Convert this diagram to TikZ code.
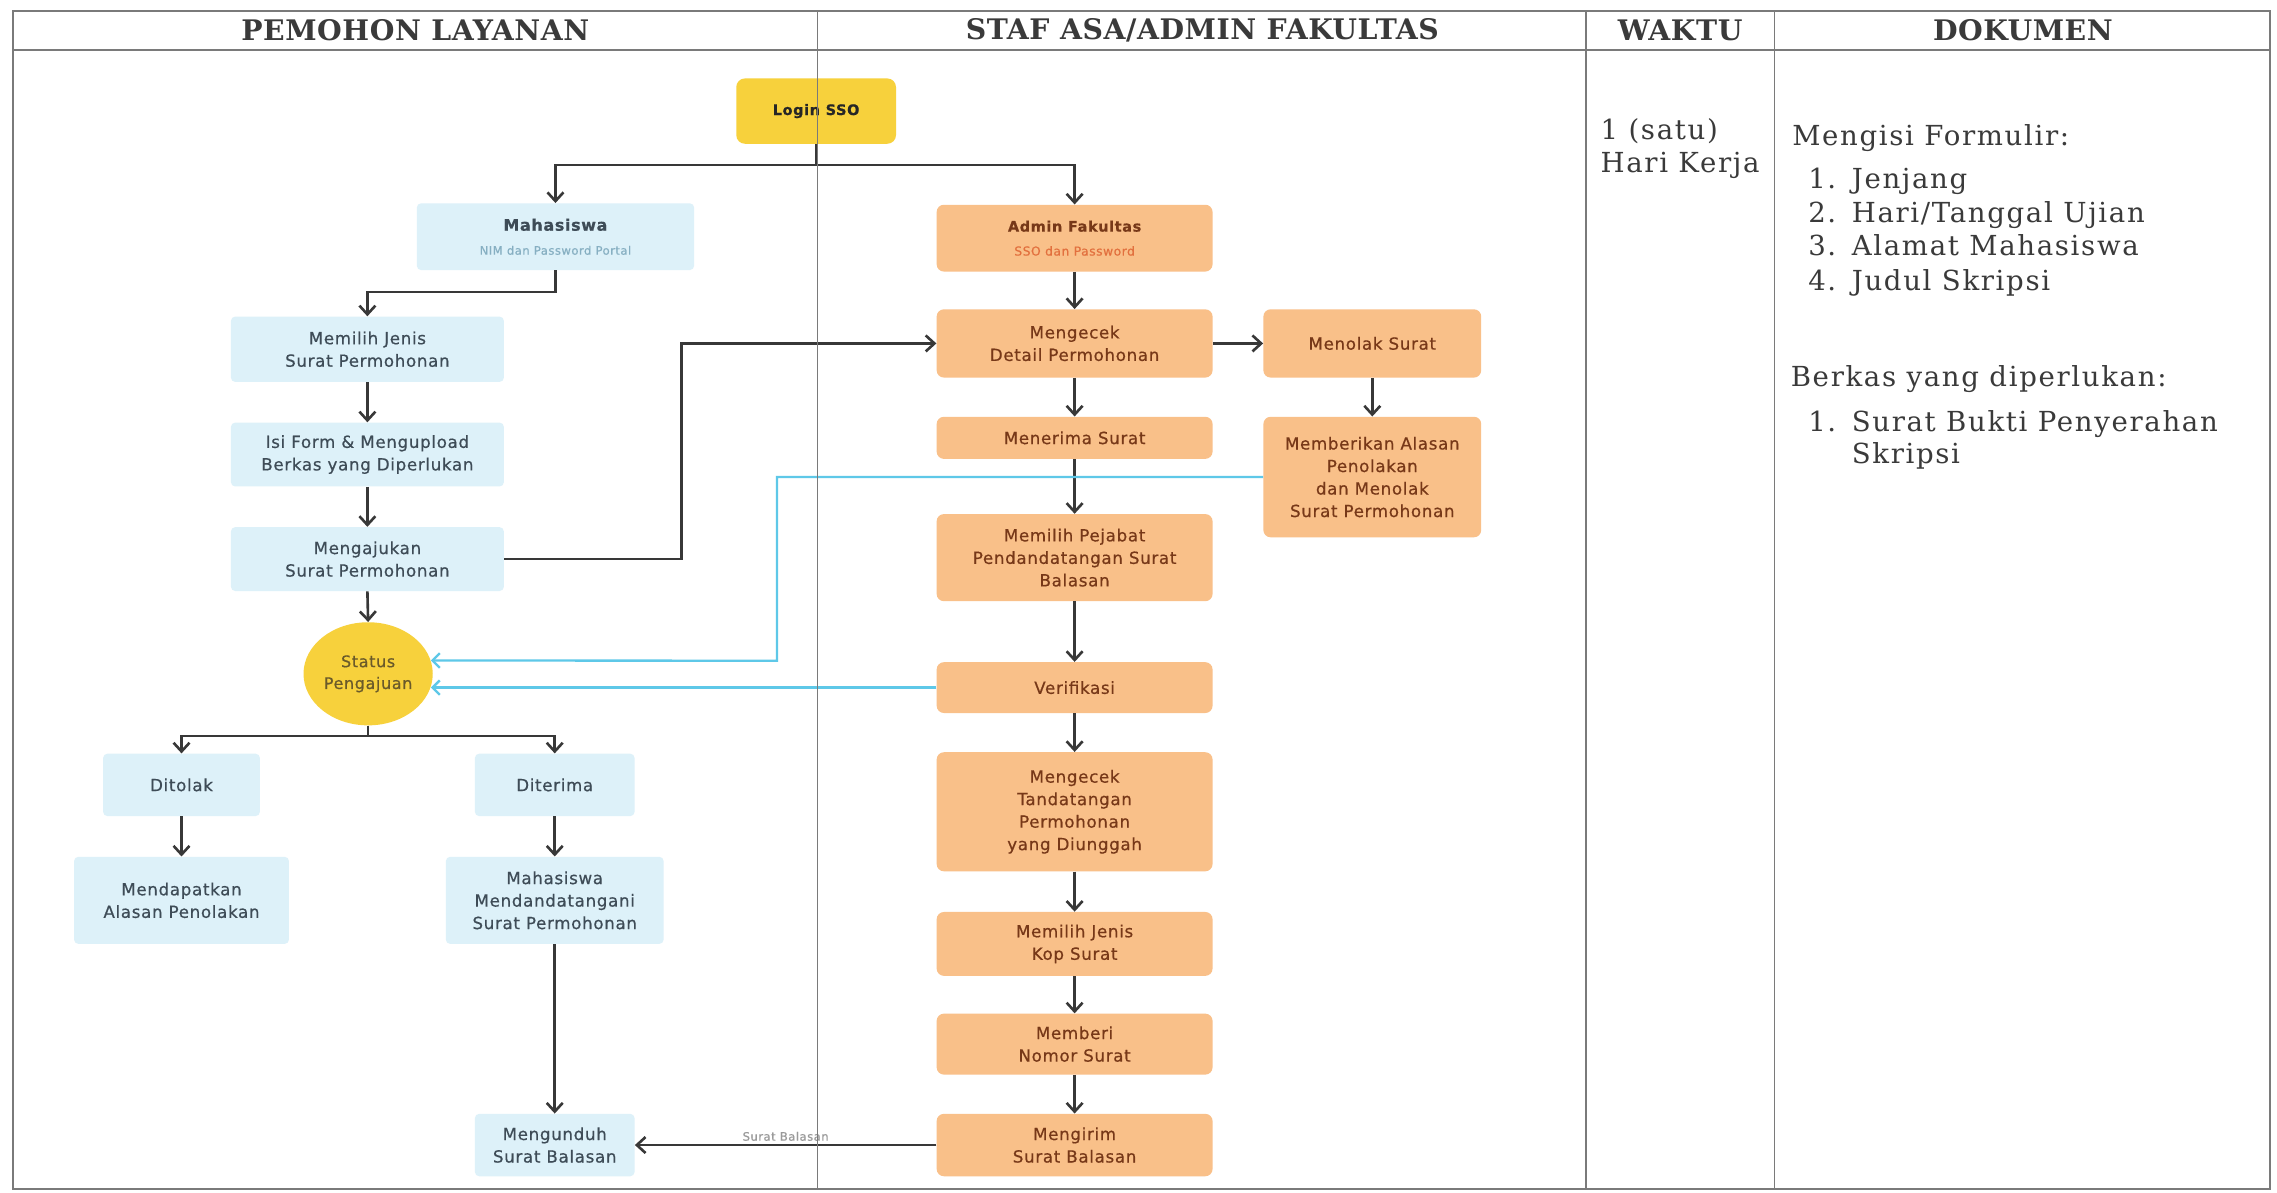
\documentclass[tikz,border=0pt]{standalone}
\usepackage{fontspec}
\setmainfont{DejaVu Serif}
\newfontfamily\hdfont[LetterSpace=2]{DejaVu Serif}
\newfontfamily\docfont[LetterSpace=6]{DejaVu Serif}
\newfontfamily\bxfont[LetterSpace=4,FakeBold=0.6]{DejaVu Sans}
\usetikzlibrary{arrows.meta,shapes.geometric}
\definecolor{bluebox}{HTML}{DDF1F9}
\definecolor{orbox}{HTML}{F9C089}
\definecolor{yel}{HTML}{F7D13C}
\definecolor{bluetxt}{HTML}{3E4C57}
\definecolor{ortxt}{HTML}{773818}
\definecolor{arrc}{HTML}{383838}
\definecolor{bline}{HTML}{5EC8E8}
\definecolor{framec}{HTML}{7A7A7A}
\definecolor{txtc}{HTML}{3A3A3A}
\definecolor{subblue}{HTML}{86AFC2}
\definecolor{subor}{HTML}{E2703E}
\definecolor{stattxt}{HTML}{6A5A2A}
\definecolor{lblc}{HTML}{9A9A9A}
\tikzset{
  sz/.style 2 args={minimum width=#1, minimum height=#2},
  bbox/.style={fill=bluebox, draw=none, rounded corners=3pt, inner sep=0pt, align=center,
    text=bluetxt, font=\bxfont\fontsize{11.5}{15.5}\selectfont},
  obox/.style={fill=orbox, draw=none, rounded corners=5pt, inner sep=0pt, align=center,
    text=ortxt, font=\bxfont\fontsize{11.5}{15.5}\selectfont},
  ybox/.style={fill=yel, draw=none, rounded corners=6pt, inner sep=0pt, align=center,
    text=black!85, font=\bxfont\bfseries\fontsize{10}{12}\selectfont},
  statnode/.style={ellipse, fill=yel, draw=none, inner sep=0pt, align=center,
    text=stattxt, font=\bxfont\fontsize{11}{15}\selectfont},
  arr/.style={draw=arrc, line width=1.8pt, -{Straight Barb[length=6pt,width=11pt]}},
  barr/.style={draw=bline, line width=1.6pt, -{Straight Barb[length=5pt,width=10pt]}},
  hd/.style={inner sep=0pt, text=txtc, font=\hdfont\bfseries\fontsize{19.5}{22}\selectfont},
  doc/.style={inner sep=0pt, anchor=base west, text=txtc, font=\docfont\fontsize{19}{23}\selectfont},
  lbl/.style={inner sep=2pt, text=lblc, font=\bxfont\fontsize{8}{9}\selectfont},
  frameline/.style={draw=framec, line width=1.2pt}
}
\begin{document}
\begin{tikzpicture}[x=1pt,y=-1pt]
\useasboundingbox (0,0) rectangle (1568,821);
\fill[white] (0,0) rectangle (1568,821);

% headers
\node[hd] (h1) at (286,21) {PEMOHON LAYANAN};
\node[hd] (h2) at (828,21) {STAF ASA/ADMIN FAKULTAS};
\node[hd] (h3) at (1157,21) {WAKTU};
\node[hd] (h4) at (1393,21) {DOKUMEN};

% waktu
\node[doc] (w1) at (1102,96) {1 (satu)};
\node[doc] (w2) at (1102,119) {Hari Kerja};

% dokumen
\node[doc] (d0) at (1234,100) {Mengisi Formulir:};
\node[doc] (d1) at (1245,130) {\makebox[30pt][l]{1.}Jenjang};
\node[doc] (d2) at (1245,153) {\makebox[30pt][l]{2.}Hari/Tanggal Ujian};
\node[doc] (d3) at (1245,176) {\makebox[30pt][l]{3.}Alamat Mahasiswa};
\node[doc] (d4) at (1245,200) {\makebox[30pt][l]{4.}Judul Skripsi};
\node[doc] (d5) at (1233,266) {Berkas yang diperlukan:};
\node[doc] (d6) at (1245,297) {\makebox[30pt][l]{1.}Surat Bukti Penyerahan};
\node[doc] (d7) at (1275,319) {Skripsi};

% pemohon column
\node[ybox, sz={110}{45}] (login) at (562,76.5) {Login SSO};
\node[bbox, sz={191}{46}] (mhs) at (382.5,163)
  {{\bfseries\fontsize{11}{13}\selectfont Mahasiswa}\\[1pt]{\fontsize{8}{10}\selectfont\color{subblue}NIM dan Password Portal}};
\node[bbox, sz={188}{45}] (pilih) at (253,240.5) {Memilih Jenis\\Surat Permohonan};
\node[bbox, sz={188}{44}] (isi) at (253,313) {Isi Form \& Mengupload\\Berkas yang Diperlukan};
\node[bbox, sz={188}{44}] (ajukan) at (253,385) {Mengajukan\\Surat Permohonan};
\node[statnode, minimum width=89, minimum height=71] (status) at (253.5,464) {Status\\Pengajuan};
\node[bbox, sz={108}{43}] (tolak) at (125,540.5) {Ditolak};
\node[bbox, sz={148}{60}] (alasan) at (125,620) {Mendapatkan\\Alasan Penolakan};
\node[bbox, sz={110}{43}] (terima) at (382,540.5) {Diterima};
\node[bbox, sz={150}{60}] (ttd) at (382,620) {Mahasiswa\\Mendandatangani\\Surat Permohonan};
\node[bbox, sz={110}{43}] (unduh) at (382,788.5) {Mengunduh\\Surat Balasan};

% staf column
\node[obox, sz={190}{46}] (admin) at (740,164)
  {{\bfseries\fontsize{10}{13}\selectfont Admin Fakultas}\\[1pt]{\fontsize{8.5}{10}\selectfont\color{subor}SSO dan Password}};
\node[obox, sz={190}{47}] (cek) at (740,236.5) {Mengecek\\Detail Permohonan};
\node[obox, sz={150}{47}] (menolak) at (945,236.5) {Menolak Surat};
\node[obox, sz={150}{83}] (beri) at (945,328.5) {Memberikan Alasan\\Penolakan\\dan Menolak\\Surat Permohonan};
\node[obox, sz={190}{29}] (trmsurat) at (740,301.5) {Menerima Surat};
\node[obox, sz={190}{60}] (pejabat) at (740,384) {Memilih Pejabat\\Pendandatangan Surat\\Balasan};
\node[obox, sz={190}{35}] (verif) at (740,473.5) {Verifikasi};
\node[obox, sz={190}{82}] (cekttd) at (740,559) {Mengecek\\Tandatangan\\Permohonan\\yang Diunggah};
\node[obox, sz={190}{44}] (kop) at (740,650) {Memilih Jenis\\Kop Surat};
\node[obox, sz={190}{42}] (nomor) at (740,719) {Memberi\\Nomor Surat};
\node[obox, sz={190}{43}] (kirim) at (740,788.5) {Mengirim\\Surat Balasan};

% connectors
\draw[arr] (login.south) -- ++(0,14.5) -| (mhs.north);
\draw[arr] (login.south) -- ++(0,14.5) -| (admin.north);
\draw[arr] (mhs.south) -- ++(0,15) -| (pilih.north);
\draw[arr] (pilih.south) -- (isi.north);
\draw[arr] (isi.south) -- (ajukan.north);
\draw[arr] (ajukan.south) -- (status.north);
\draw[arr] (ajukan.east) -- ++(122,0) |- (cek.west);
\draw[arr] (status.south) -- ++(0,7) -| (tolak.north);
\draw[arr] (status.south) -- ++(0,7) -| (terima.north);
\draw[arr] (tolak.south) -- (alasan.north);
\draw[arr] (terima.south) -- (ttd.north);
\draw[arr] (ttd.south) -- (unduh.north);
\draw[arr] (kirim.west) -- node[above, lbl] {Surat Balasan} (unduh.east);
\draw[arr] (admin.south) -- (cek.north);
\draw[arr] (cek.south) -- (trmsurat.north);
\draw[arr] (trmsurat.south) -- (pejabat.north);
\draw[arr] (pejabat.south) -- (verif.north);
\draw[arr] (verif.south) -- (cekttd.north);
\draw[arr] (cekttd.south) -- (kop.north);
\draw[arr] (kop.south) -- (nomor.north);
\draw[arr] (nomor.south) -- (kirim.north);
\draw[arr] (cek.east) -- (menolak.west);
\draw[arr] (menolak.south) -- (beri.north);

\coordinate (bj) at (535,455);
\draw[barr] (beri.west) -| (bj) -- (status.12);
\draw[barr] (verif.west) -- (status.348 |- verif.west);

% table frame
\draw[frameline] (9,7.5) rectangle (1563,819);
\draw[draw=framec, line width=1.6pt] (9,34.5) -- (1563,34.5);
\foreach \xx in {563,1092,1222} \draw[frameline] (\xx,7.5) -- (\xx,819);
\end{tikzpicture}
\end{document}
